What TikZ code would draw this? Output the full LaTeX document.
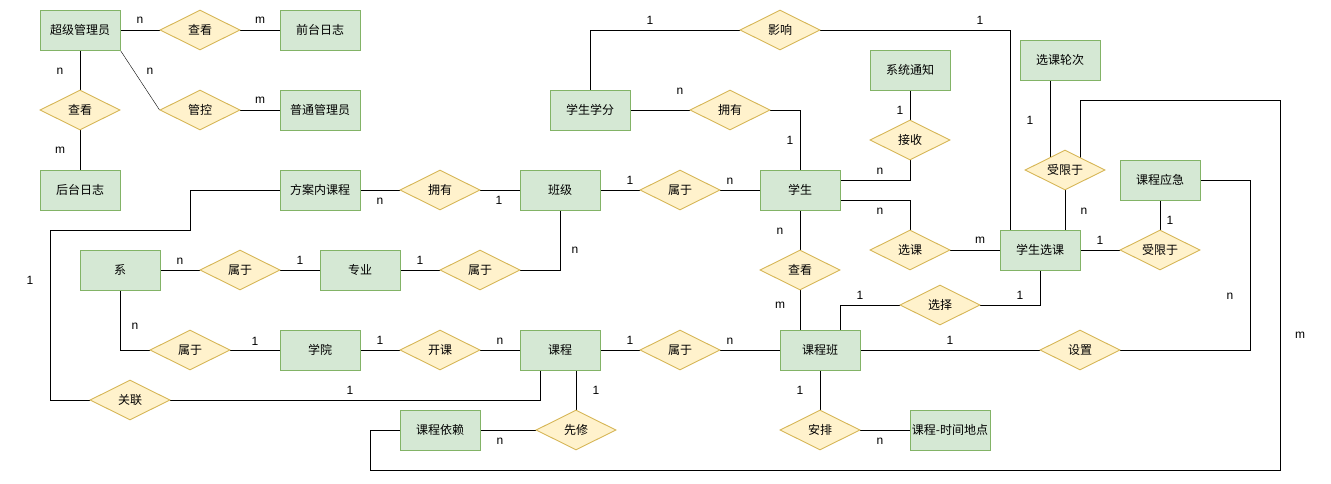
\documentclass[tikz,border=0pt]{standalone}
\usepackage{fontspec}
\setmainfont{Liberation Sans}
\newfontfamily\cjk{Noto Sans CJK SC}
\usepackage{tikz}
\usetikzlibrary{
    shapes.geometric,
    backgrounds
}
\definecolor{entfill}{HTML}{D5E8D4}
\definecolor{entline}{HTML}{82B366}
\definecolor{relfill}{HTML}{FFF2CC}
\definecolor{relline}{HTML}{D6B656}
\tikzset{
    ent/.style={draw=entline, fill=entfill, line width=0.9pt, minimum width=80pt, minimum height=40pt,
        inner sep=0pt, font=\cjk\fontsize{12pt}{14pt}\selectfont},
    rel/.style={diamond, aspect=2, draw=relline, fill=relfill, line width=0.9pt, minimum width=80pt,
        minimum height=40pt, inner sep=0pt, font=\cjk\fontsize{12pt}{14pt}\selectfont},
    card/.style={inner sep=0pt, font=\fontsize{12pt}{14pt}\selectfont},
    conn/.style={line width=0.9pt}
}

\begin{document}
\begin{tikzpicture}[x=1pt, y=-1pt]
        \useasboundingbox (0,0) rectangle (1331,483);
        \node[ent] (sadmin) at (80,30) {超级管理员};
        \node[ent] (qlog) at (320,30) {前台日志};
        \node[ent] (nadmin) at (320,110) {普通管理员};
        \node[ent] (hlog) at (80,190) {后台日志};
        \node[ent] (fakc) at (320,190) {方案内课程};
        \node[ent] (banji) at (560,190) {班级};
        \node[ent] (xsxf) at (590,110) {学生学分};
        \node[ent] (xuesheng) at (800,190) {学生};
        \node[ent] (tongzhi) at (910,70) {系统通知};
        \node[ent] (lunci) at (1060,60) {选课轮次};
        \node[ent] (yingji) at (1160,180) {课程应急};
        \node[ent] (xsxk) at (1040,250) {学生选课};
        \node[ent] (xi) at (120,270) {系};
        \node[ent] (zhuanye) at (360,270) {专业};
        \node[ent] (xueyuan) at (320,350) {学院};
        \node[ent] (kecheng) at (560,350) {课程};
        \node[ent] (kcyl) at (440,430) {课程依赖};
        \node[ent] (kcb) at (820,350) {课程班};
        \node[ent] (sjdd) at (950,430) {课程-时间地点};

        \node[rel] (ck1) at (200,30) {查看};
        \node[rel] (ck2) at (80,110) {查看};
        \node[rel] (gk) at (200,110) {管控};
        \node[rel] (yy1) at (440,190) {拥有};
        \node[rel] (yx) at (780,30) {影响};
        \node[rel] (yy2) at (730,110) {拥有};
        \node[rel] (sy1) at (680,190) {属于};
        \node[rel] (js) at (910,140) {接收};
        \node[rel] (sx1) at (1065,170) {受限于};
        \node[rel] (sx2) at (1160,250) {受限于};
        \node[rel] (xk) at (910,250) {选课};
        \node[rel] (ck3) at (800,270) {查看};
        \node[rel] (xz) at (940,305) {选择};
        \node[rel] (sy2) at (240,270) {属于};
        \node[rel] (sy3) at (480,270) {属于};
        \node[rel] (sy4) at (190,350) {属于};
        \node[rel] (kk) at (440,350) {开课};
        \node[rel] (sy5) at (680,350) {属于};
        \node[rel] (sz) at (1080,350) {设置};
        \node[rel] (gl) at (130,400) {关联};
        \node[rel] (xx) at (576,430) {先修};
        \node[rel] (ap) at (820,430) {安排};

        \begin{scope}[on background layer, conn]
        \draw (sadmin) -- (ck1) -- (qlog);
        \draw (sadmin) -- (ck2) -- (hlog);
        \draw (sadmin.south east) -- (gk.west);
        \draw (gk) -- (nadmin);
        \draw (fakc) -- (yy1) -- (banji);
        \draw (fakc.west) -| (190,230) -| (50,400) -- (gl.west);
        \draw (gl.east) -| ([xshift=-20pt]kecheng.south);
        \draw (banji) -- (sy1) -- (xuesheng);
        \draw (xsxf.north) |- (yx.west);
        \draw (yx.east) -| ([xshift=-30pt]xsxk.north);
        \draw (xsxf) -- (yy2);
        \draw (yy2.east) -| (xuesheng.north);
        \draw ([yshift=10pt]xuesheng.east) -| (js.south);
        \draw (tongzhi) -- (js);
        \draw ([yshift=-10pt]xuesheng.east) -| (xk.north);
        \draw (xk) -- (xsxk);
        \draw (xuesheng.south) -- (ck3.north);
        \draw (ck3.south) -- (ck3.south |- kcb.north);
        \draw ([xshift=20pt]kcb.north) |- (xz.west);
        \draw (xz.east) -| (xsxk.south);
        \draw ([xshift=-10pt]lunci.south) -- ([xshift=-15pt]sx1.center);
        \draw (sx1) -- (sx1 |- xsxk.north);
        \draw ([xshift=15pt]sx1.center) |- (1280,100) |- (370,470) |- (kcyl.west);
        \draw (xsxk) -- (sx2) -- (yingji);
        \draw (kcb) -- (sz);
        \draw (sz.east) -| ([xshift=50pt]yingji.east) -- (yingji.east);
        \draw (kecheng) -- (sy5) -- (kcb);
        \draw (kcb) -- (ap) -- (sjdd);
        \draw (xx.north) -- (xx.north |- kecheng.south);
        \draw (kcyl) -- (xx);
        \draw (kecheng) -- (kk) -- (xueyuan) -- (sy4);
        \draw (sy4.west) -| (xi.south);
        \draw (xi) -- (sy2) -- (zhuanye) -- (sy3);
        \draw (sy3.east) -| (banji.south);
        \end{scope}

        \node[card] at (140,20) {n};
        \node[card] at (260,20) {m};
        \node[card] at (60,71) {n};
        \node[card] at (150,71) {n};
        \node[card] at (260,100) {m};
        \node[card] at (60,150) {m};
        \node[card] at (380,201) {n};
        \node[card] at (499,200) {1};
        \node[card] at (650,20) {1};
        \node[card] at (680,91) {n};
        \node[card] at (790,140) {1};
        \node[card] at (630,180) {1};
        \node[card] at (730,181) {n};
        \node[card] at (980,20) {1};
        \node[card] at (900,110) {1};
        \node[card] at (880,171) {n};
        \node[card] at (880,211) {n};
        \node[card] at (980,240) {m};
        \node[card] at (1030,120) {1};
        \node[card] at (1084,211) {n};
        \node[card] at (1170,220) {1};
        \node[card] at (1100,240) {1};
        \node[card] at (1020,295) {1};
        \node[card] at (1230,296) {n};
        \node[card] at (1300,335) {m};
        \node[card] at (575,250) {n};
        \node[card] at (780,231) {n};
        \node[card] at (780,305) {m};
        \node[card] at (860,295) {1};
        \node[card] at (630,340) {1};
        \node[card] at (730,341) {n};
        \node[card] at (950,340) {1};
        \node[card] at (596,390) {1};
        \node[card] at (800,390) {1};
        \node[card] at (880,441) {n};
        \node[card] at (30,280) {1};
        \node[card] at (180,261) {n};
        \node[card] at (300,260) {1};
        \node[card] at (420,260) {1};
        \node[card] at (135,326) {n};
        \node[card] at (255,341) {1};
        \node[card] at (380,340) {1};
        \node[card] at (500,341) {n};
        \node[card] at (350,390) {1};
        \node[card] at (500,441) {n};
\end{tikzpicture}
\end{document}
